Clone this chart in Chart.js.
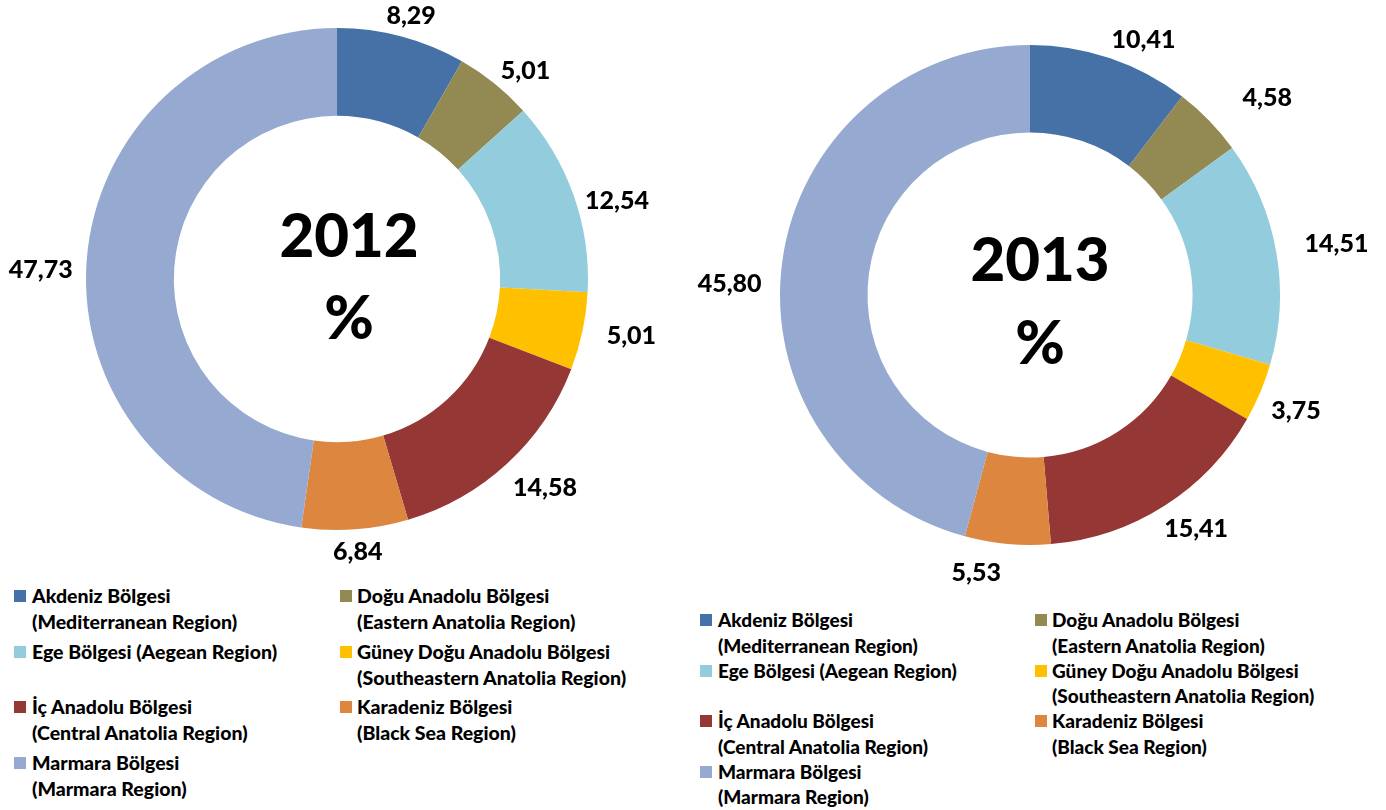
<!DOCTYPE html>
<html>
<head>
<meta charset="utf-8">
<script src="https://cdn.jsdelivr.net/npm/chart.js@4.4.0/dist/chart.umd.min.js"></script>
<style>
body { margin: 0; background: #fff; width: 1386px; height: 810px; position: relative; overflow: hidden; font-family: Lato, sans-serif; }
.box { position: absolute; }
.legend { position: absolute; left: 0; top: 0; font-weight: 900; color: #000; }
.item { position: absolute; white-space: nowrap; }
.sq { position: absolute; width: 12px; height: 12px; }
</style>
</head>
<body>
<div class="box" style="left:0;top:0;width:680px;height:580px"><canvas id="c2012"></canvas></div>
<div class="box" style="left:693px;top:0;width:693px;height:600px"><canvas id="c2013"></canvas></div>
<div id="leg2012" class="legend"></div>
<div id="leg2013" class="legend"></div>

<script>
// bölgeler (saat yönünde, tepeden başlayarak)
const regions = [
    'Akdeniz Bölgesi (Mediterranean Region)',
    'Doğu Anadolu Bölgesi (Eastern Anatolia Region)',
    'Ege Bölgesi (Aegean Region)',
    'Güney Doğu Anadolu Bölgesi (Southeastern Anatolia Region)',
    'İç Anadolu Bölgesi (Central Anatolia Region)',
    'Karadeniz Bölgesi (Black Sea Region)',
    'Marmara Bölgesi (Marmara Region)'
];
const legendLines = [
    ['Akdeniz Bölgesi', '(Mediterranean Region)'],
    ['Doğu Anadolu Bölgesi', '(Eastern Anatolia Region)'],
    ['Ege Bölgesi (Aegean Region)'],
    ['Güney Doğu Anadolu Bölgesi', '(Southeastern Anatolia Region)'],
    ['İç Anadolu Bölgesi', '(Central Anatolia Region)'],
    ['Karadeniz Bölgesi', '(Black Sea Region)'],
    ['Marmara Bölgesi', '(Marmara Region)']
];
const values2012 = [8.29, 5.01, 12.54, 5.01, 14.58, 6.84, 47.73];
const values2013 = [10.41, 4.58, 14.51, 3.75, 15.41, 5.53, 45.80];
const colors = ['#4571A6', '#938953', '#93CDDD', '#FFC000', '#953735', '#DC8640', '#95A9D1'];

const fmt = v => v.toFixed(2).replace('.', ',');

// === Etiketler dilimlerin dışında ===
const outsideLabels = {
    id: 'outsideLabels',
    afterDatasetsDraw(chart, args, opts) {
        const ctx = chart.ctx;
        const meta = chart.getDatasetMeta(0);
        const data = chart.data.datasets[0].data;
        ctx.save();
        ctx.font = '900 25px Lato';
        ctx.fillStyle = '#000';
        ctx.textAlign = 'center';
        ctx.textBaseline = 'middle';
        meta.data.forEach((arc, i) => {
            const p = arc.getProps(['x', 'y', 'startAngle', 'endAngle', 'outerRadius'], true);
            const mid = (p.startAngle + p.endAngle) / 2;
            const txt = fmt(data[i]);
            const w = ctx.measureText(txt).width;
            const h = 22;
            const r = p.outerRadius + opts.gap;
            const n = opts.nudge[i] || [0, 0];
            const x = p.x + Math.cos(mid) * r + Math.cos(mid) * w / 2 + n[0];
            const y = p.y + Math.sin(mid) * r + Math.sin(mid) * h / 2 + n[1];
            ctx.fillText(txt, x, y);
        });
        ctx.restore();
    }
};

// === Ortadaki yazı ===
const centerText = {
    id: 'centerText',
    afterDatasetsDraw(chart, args, opts) {
        const ctx = chart.ctx;
        const arc = chart.getDatasetMeta(0).data[0];
        ctx.save();
        ctx.font = '900 60px Lato';
        ctx.fillStyle = '#000';
        ctx.textAlign = 'center';
        ctx.textBaseline = 'middle';
        opts.lines.forEach(l => ctx.fillText(l.text, arc.x + opts.dx, arc.y + l.dy));
        ctx.restore();
    }
};

function makeChart(id, values, padding, lines, dx, nudge) {
    return new Chart(document.getElementById(id), {
        type: 'doughnut',
        data: {
            labels: regions,
            datasets: [{ data: values, backgroundColor: colors, borderWidth: 0 }]
        },
        options: {
            responsive: true,
            maintainAspectRatio: false,
            animation: false,
            cutout: '65%',
            layout: { padding: padding },
            plugins: {
                legend: { display: false },
                tooltip: { enabled: false },
                outsideLabels: { gap: 12, nudge: nudge },
                centerText: { lines: lines, dx: dx }
            }
        },
        plugins: [outsideLabels, centerText]
    });
}

makeChart('c2012', values2012, { left: 86, top: 28, right: 92, bottom: 50 },
    [{ text: '2012', dy: -41 }, { text: '%', dy: 41 }], 12,
    [[0, 2], [8, 5], [2, 14], [13, 0], [8, 8], [0, 0], [-2, 10]]);
makeChart('c2013', values2013, { left: 87, top: 45, right: 106, bottom: 55 },
    [{ text: '2013', dy: -33 }, { text: '%', dy: 50 }], 10,
    [[19, 3], [32, -6], [17, -4], [2, 9], [8, 4], [-28, 6], [-9, 25]]);

// === Leyenda HTML ===
function buildLegend(elId, sqX, textX, firstY, pitch, lineH, fontSize) {
    const el = document.getElementById(elId);
    el.style.fontSize = fontSize + 'px';
    legendLines.forEach((lines, i) => {
        const col = i % 2;
        const row = Math.floor(i / 2);
        const y = firstY + row * pitch;
        const sq = document.createElement('div');
        sq.className = 'sq';
        sq.style.background = colors[i];
        sq.style.left = sqX[col] + 'px';
        sq.style.top = (y - 6) + 'px';
        el.appendChild(sq);
        lines.forEach((t, k) => {
            const d = document.createElement('div');
            d.className = 'item';
            d.textContent = t;
            d.style.left = textX[col] + 'px';
            d.style.top = (y + k * lineH - lineH / 2) + 'px';
            d.style.lineHeight = lineH + 'px';
            el.appendChild(d);
        });
    });
}
buildLegend('leg2012', [14, 340], [32, 357], 596, 55.7, 26, 19.5);
buildLegend('leg2013', [700, 1035], [718, 1052], 620, 50.5, 25.5, 19);
</script>
</body>
</html>
